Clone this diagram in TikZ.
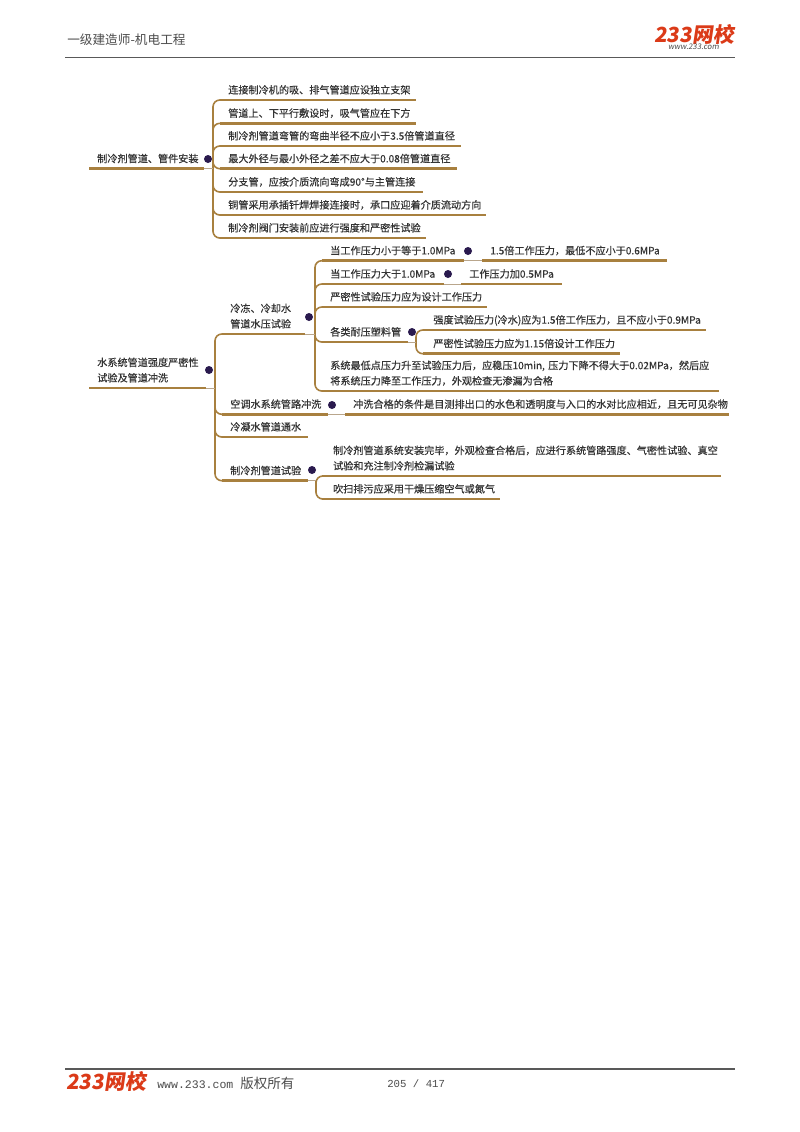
\documentclass[tikz,border=0pt]{standalone}
\usepackage{fontspec}
\setmainfont{Noto Sans CJK SC}
\setmonofont{Liberation Mono}
\newfontfamily\logofont[FakeSlant=0.15]{Noto Sans CJK SC}
\newfontfamily\treefont[FakeBold=0.35]{Noto Sans CJK SC}
\definecolor{branchBrown}{HTML}{A8803F}
\definecolor{linkTan}{HTML}{B9A68C}
\definecolor{knobPurple}{HTML}{2A1A4E}
\definecolor{textGray}{HTML}{333333}
\definecolor{logoRed}{HTML}{DB3A18}
\begin{document}
\begin{tikzpicture}
        [x=0.025cm, y=-0.025cm,
        topic/.style={anchor=south west, inner xsep=0.2cm, inner ysep=2.5pt, align=left,
            text width=(#1-16)*0.025cm, text=textGray, font=\treefont\fontsize{7.2}{11}\selectfont,
            execute at end node={\rule[-1.8pt]{0pt}{0pt}}},
        knob/.style={circle, fill=knobPurple, minimum size=0.2cm, inner sep=0pt},
        under/.style={line width=0.065cm, branchBrown},
        branch/.style={line width=0.04cm, branchBrown, rounded corners=0.17cm},
        link/.style={line width=0.025cm, linkTan},
        rule/.style={line width=0.03cm, black!65},
        plain/.style={inner sep=0pt, text=black!70},
        logo/.style={anchor=base west, inner sep=0pt, text=logoRed, text height=11pt, text depth=0pt,
            font=\logofont\bfseries\fontsize{14.8}{16}\selectfont}]
        \useasboundingbox (0,0) rectangle (800,1132);
        \fill[white] (0,0) rectangle (800,1132);

        \coordinate (HL) at (65,57.7);
        \coordinate (HR) at (735,57.7);
        \coordinate (FL) at (65,1069);
        \coordinate (FR) at (735,1069);
        \draw[rule] (HL) -- (HR);
        \draw[rule] (FL) -- (FR);
        \node[plain, anchor=west, font=\fontsize{9}{11}\selectfont] (title) at (67,40) {一级建造师-机电工程};
        \node[logo] (logoTop) at (654,42) {233网校};
        \node[plain, font=\logofont\fontsize{5.5}{6}\selectfont] (logoWeb) at (693.5,47) {www.233.com};
        \node[logo] (logoFoot) at (66,1089.5) {233网校};
        \node[plain, anchor=west] (site) at (157,1083) {\ttfamily\fontsize{8.2}{10}\selectfont www.233.com\ \rmfamily\fontsize{9.6}{10}\selectfont 版权所有};
        \node[plain, anchor=west, font=\ttfamily\fontsize{7.6}{10}\selectfont] (page) at (387,1084) {205 / 417};

        \node[topic=114] (R1) at (89,168.7) {制冷剂管道、管件安装};
        \node[knob] (K1) at (208,159) {};
        \coordinate (H1) at (213,168.7);
        \node[topic=195] (A1) at (220,100) {连接制冷机的吸、排气管道应设独立支架};
        \node[topic=195] (A2) at (220,123.3) {管道上、下平行敷设时，吸气管应在下方};
        \node[topic=240] (A3) at (220,146) {制冷剂管道弯管的弯曲半径不应小于3.5倍管道直径};
        \node[topic=236] (A4) at (220,168.7) {最大外径与最小外径之差不应大于0.08倍管道直径};
        \node[topic=202] (A5) at (220,192) {分支管，应按介质流向弯成90°与主管连接};
        \node[topic=265] (A6) at (220,215) {铜管采用承插钎焊焊接连接时，承口应迎着介质流动方向};
        \node[topic=205] (A7) at (220,238) {制冷剂阀门安装前应进行强度和严密性试验};

        \node[topic=116] (R2) at (89,388) {水系统管道强度严密性\\试验及管道冲洗};
        \node[knob] (K2) at (209,370) {};
        \coordinate (H2) at (215,388);
        \node[topic=82] (B1) at (222,334) {冷冻、冷却水\\管道水压试验};
        \node[knob] (K3) at (309,317) {};
        \coordinate (H3) at (315,334);
        \node[topic=105] (B2) at (222,414.3) {空调水系统管路冲洗};
        \node[knob] (K4) at (332,405) {};
        \node[topic=383] (B5) at (345,414.3) {冲洗合格的条件是目测排出口的水色和透明度与入口的水对比应相近，且无可见杂物};
        \node[topic=85] (B3) at (222,437) {冷凝水管道通水};
        \node[topic=85] (B4) at (222,480.7) {制冷剂管道试验};
        \node[knob] (K5) at (312,470) {};
        \coordinate (H4) at (316,480.7);
        \node[topic=398] (C1) at (322,476) {\hspace*{2pt}制冷剂管道系统安装完毕，外观检查合格后，应进行系统管路强度、气密性试验、真空\\\hspace*{2pt}试验和充注制冷剂检漏试验};
        \node[topic=177] (C2) at (322,499) {\hspace*{2pt}吹扫排污应采用干燥压缩空气或氮气};

        \node[topic=141] (D1) at (322,260.7) {当工作压力小于等于1.0MPa};
        \node[knob] (K6) at (468,251) {};
        \node[topic=184] (F1) at (482,260.7) {1.5倍工作压力，最低不应小于0.6MPa};
        \node[topic=121] (D2) at (322,284) {当工作压力大于1.0MPa};
        \node[knob] (K7) at (448,274) {};
        \node[topic=100] (F2) at (461,284) {工作压力加0.5MPa};
        \node[topic=164] (D3) at (322,307) {严密性试验压力应为设计工作压力};
        \node[topic=85] (D4) at (322,342) {各类耐压塑料管};
        \node[knob] (K8) at (412,332) {};
        \coordinate (H5) at (416,342);
        \node[topic=282] (E1) at (423,330) {\hspace*{1.5pt}强度试验压力(冷水)应为1.5倍工作压力，且不应小于0.9MPa};
        \node[topic=196] (E2) at (423,353.7) {\hspace*{1.5pt}严密性试验压力应为1.15倍设计工作压力};
        \node[topic=396] (D5) at (322,391) {系统最低点压力升至试验压力后，应稳压10min, 压力下降不得大于0.02MPa，然后应\\将系统压力降至工作压力，外观检查无渗漏为合格};

        \foreach \n in {R1,R2,A1,A2,A3,A4,A5,A6,A7,B1,B2,B3,B4,B5,C1,C2,D1,D2,D3,D4,D5,E1,E2,F1,F2}
            \draw[under] (\n.south west) -- (\n.south east);

        \foreach \n in {A1,A2,A3,A4,A5,A6,A7}
            \draw[branch] (H1) |- (\n.south west);
        \foreach \n in {B1,B2,B3,B4}
            \draw[branch] (H2) |- (\n.south west);
        \foreach \n in {D1,D2,D3,D4,D5}
            \draw[branch] (H3) |- (\n.south west);
        \foreach \n in {C1,C2}
            \draw[branch] (H4) |- (\n.south west);
        \foreach \n in {E1,E2}
            \draw[branch] (H5) |- (\n.south west);

        \draw[link] (R1.south east) -- (H1);
        \draw[link] (R2.south east) -- (H2);
        \draw[link] (B1.south east) -- (H3);
        \draw[link] (B4.south east) -- (H4);
        \draw[link] (D4.south east) -- (H5);
        \draw[link] (B2.south east) -- (B5.south west);
        \draw[link] (D1.south east) -- (F1.south west);
        \draw[link] (D2.south east) -- (F2.south west);
    \end{tikzpicture}
\end{document}
